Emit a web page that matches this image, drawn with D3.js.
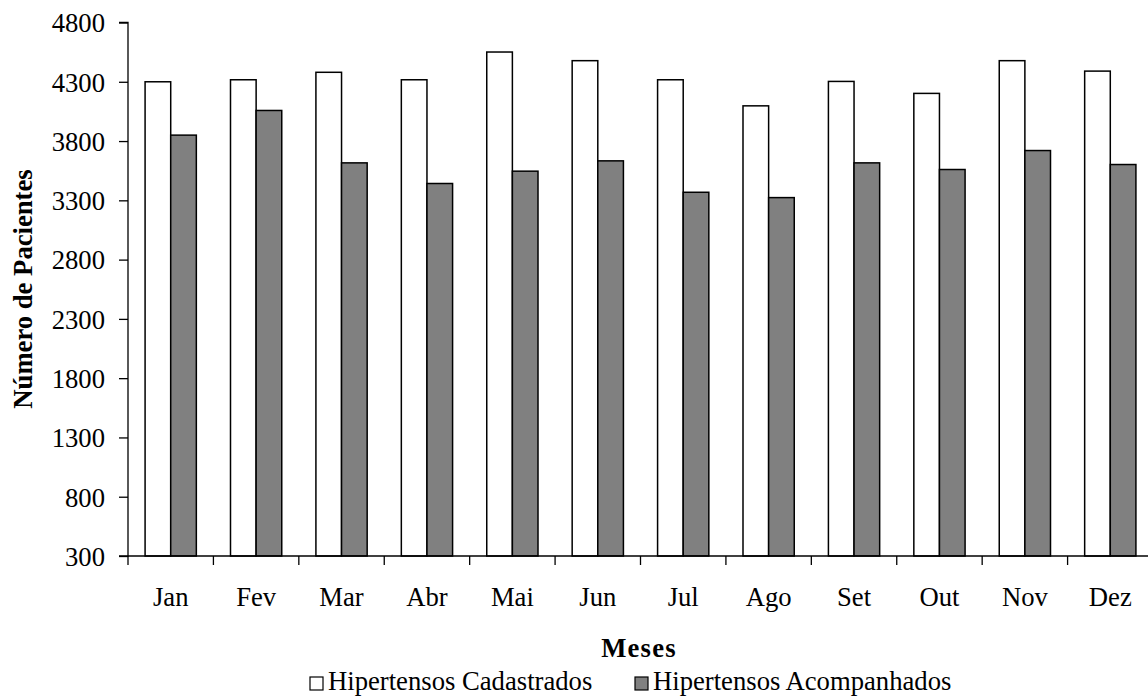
<!DOCTYPE html>
<html><head><meta charset="utf-8">
<script src="https://cdn.jsdelivr.net/npm/d3@7"></script>
<style>body{margin:0;background:#fff}svg{display:block}text{font-family:"Liberation Serif","Times New Roman",serif;fill:#000}</style>
</head><body>
<svg id="c" width="1148" height="699"></svg>
<script>
const months = ["Jan","Fev","Mar","Abr","Mai","Jun","Jul","Ago","Set","Out","Nov","Dez"];
const cadastrados = [4300,4317,4380,4317,4551,4478,4317,4097,4303,4202,4478,4390];
const acompanhados = [3850,4058,3616,3442,3546,3633,3368,3323,3616,3560,3720,3602];
const yTicks = [300,800,1300,1800,2300,2800,3300,3800,4300,4800];
const seriesNames = ["Hipertensos Cadastrados","Hipertensos Acompanhados"];
const seriesColors = ["#ffffff","#808080"];

const FS = "26.67px";
const svg = d3.select("#c");
const x0 = 128, x1 = 1153, yTop = 22.5, yBot = 556;
const x = d3.scaleBand().domain(months).range([x0, x1]);
const y = d3.scaleLinear().domain([300, 4800]).range([yBot, yTop]);
const bw = x.bandwidth() * 0.3;

const g = svg.append("g");
months.forEach((m, i) => {
  const c = x(m) + x.bandwidth() / 2;
  [cadastrados[i], acompanhados[i]].forEach((v, s) => {
    g.append("rect")
      .attr("x", c - bw + s * bw).attr("y", y(v))
      .attr("width", bw).attr("height", y(300) - y(v))
      .attr("fill", seriesColors[s]).attr("stroke", "#000").attr("stroke-width", 1.5);
  });
});

// Y axis
const ya = svg.append("g").attr("transform", `translate(${x0},0)`)
  .call(d3.axisLeft(y).tickValues(yTicks).tickSize(9).tickPadding(14).tickFormat(d3.format("d")));
ya.selectAll("text").style("font-size", FS).style("font-family", '"Liberation Serif", serif').attr("dy", "0.35em");
ya.selectAll("line,path").attr("stroke", "#000").attr("stroke-width", 1.3);
ya.select(".domain").attr("d", `M-9,${yTop}H0V${yBot}H-9`);

// X axis
const xa = svg.append("g").attr("transform", `translate(0,${yBot})`);
xa.append("line").attr("x1", x0).attr("x2", x1).attr("stroke", "#000").attr("stroke-width", 1.3);
months.forEach(m => {
  xa.append("line").attr("x1", x(m)).attr("x2", x(m)).attr("y1", 0).attr("y2", 9).attr("stroke", "#000").attr("stroke-width", 1.3);
  xa.append("text").attr("x", x(m) + x.bandwidth() / 2).attr("y", 50).attr("text-anchor", "middle").style("font-size", FS).text(m);
});

// Axis titles
svg.append("text").attr("transform", "translate(32,289) rotate(-90)").attr("text-anchor", "middle")
  .style("font-size", FS).style("font-weight", "bold").text("Número de Pacientes");
svg.append("text").attr("x", 639).attr("y", 657).attr("text-anchor", "middle")
  .style("font-size", FS).style("font-weight", "bold").style("letter-spacing", "1.2px").text("Meses");

// Legend
const legX = [310, 635];
seriesNames.forEach((n, i) => {
  svg.append("rect").attr("x", legX[i]).attr("y", 677).attr("width", 13).attr("height", 13)
    .attr("fill", seriesColors[i]).attr("stroke", "#000").attr("stroke-width", 1.2);
  svg.append("text").attr("x", legX[i] + 18).attr("y", 690).style("font-size", FS).text(n);
});
</script>
</body></html>
